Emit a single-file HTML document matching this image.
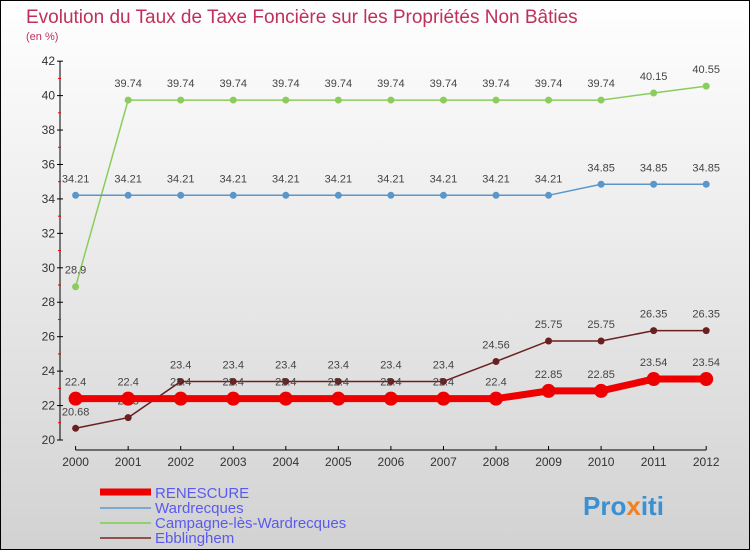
<!DOCTYPE html>
<html><head><meta charset="utf-8"><style>
body{margin:0}
#c{width:750px;height:550px;position:relative;overflow:hidden;font-family:"Liberation Sans",sans-serif}
</style></head><body>
<div id="c">
<svg id="s" width="750" height="550" xmlns="http://www.w3.org/2000/svg">
<defs><linearGradient id="bg" x1="0" y1="0" x2="0" y2="1"><stop offset="0" stop-color="#ffffff"/><stop offset="1" stop-color="#d2d2d2"/></linearGradient></defs>
<rect x="0.5" y="0.5" width="749" height="549" fill="url(#bg)" stroke="#000"/>
<text x="26" y="23" font-size="19" fill="#c0305a">Evolution du Taux de Taxe Foncière sur les Propriétés Non Bâties</text>
<text x="26" y="40" font-size="11" fill="#c0305a">(en %)</text>
<g id="axes"></g><g id="series"></g>
<g>
<line x1="100" y1="492" x2="151" y2="492" stroke="#e00" stroke-width="7"/>
<text x="155" y="498" font-size="15" fill="#5a5aee">RENESCURE</text>
<line x1="100" y1="508" x2="151" y2="508" stroke="#7aaad0" stroke-width="2"/>
<text x="155" y="513" font-size="15" fill="#5a5aee">Wardrecques</text>
<line x1="100" y1="523" x2="151" y2="523" stroke="#90d070" stroke-width="2"/>
<text x="155" y="528" font-size="15" fill="#5a5aee">Campagne-lès-Wardrecques</text>
<line x1="100" y1="538" x2="151" y2="538" stroke="#905050" stroke-width="2"/>
<text x="155" y="543" font-size="15" fill="#5a5aee">Ebblinghem</text>
</g>
<text x="583" y="515" font-size="26" font-weight="bold" fill="#3a90d0">Pro<tspan fill="#f08020">x</tspan>iti</text>
</svg>
</div>
<script>
const years=[2000,2001,2002,2003,2004,2005,2006,2007,2008,2009,2010,2011,2012];
const yTicks=[20,22,24,26,28,30,32,34,36,38,40,42];
const renescure=[22.4,22.4,22.4,22.4,22.4,22.4,22.4,22.4,22.4,22.85,22.85,23.54,23.54];
const wardrecques=[34.21,34.21,34.21,34.21,34.21,34.21,34.21,34.21,34.21,34.21,34.85,34.85,34.85];
const campagne=[28.9,39.74,39.74,39.74,39.74,39.74,39.74,39.74,39.74,39.74,39.74,40.15,40.55];
const ebblinghem=[20.68,21.3,23.4,23.4,23.4,23.4,23.4,23.4,24.56,25.75,25.75,26.35,26.35];
const NS='http://www.w3.org/2000/svg';
const X=i=>75.6+i*52.55;
const Y=v=>440-(v-20)*17.22;
function mk(t,a,p){const e=document.createElementNS(NS,t);for(const k in a)e.setAttribute(k,a[k]);p.appendChild(e);return e;}
const ax=document.getElementById('axes');
let e=mk('line',{x1:60,y1:Y(20),x2:60,y2:Y(42),stroke:'#000','stroke-width':1},ax);


e=mk('line',{x1:X(0),y1:450,x2:X(12),y2:450,stroke:'#000','stroke-width':1},ax);


yTicks.forEach(v=>{
 mk('line',{x1:57,y1:Y(v),x2:63,y2:Y(v),stroke:'#000'},ax);
 if(v<42)mk('line',{x1:58,y1:Y(v+1),x2:61,y2:Y(v+1),stroke:'#e00'},ax);
 const t=mk('text',{x:55,y:Y(v)+4,'font-size':12,fill:'#333','text-anchor':'end'},ax);t.textContent=v;
 
 
});
years.forEach((y,i)=>{
 mk('line',{x1:X(i),y1:446,x2:X(i),y2:450,stroke:'#000'},ax);
 const t=mk('text',{x:X(i),y:466,'font-size':12,fill:'#333','text-anchor':'middle'},ax);t.textContent=y;
 
 
});
const sg=document.getElementById('series');
function draw(vals,color,w,r,name){
 const g=mk('g',{},sg);
 
 
 const p=mk('polyline',{points:vals.map((v,i)=>X(i)+','+Y(v)).join(' '),fill:'none',stroke:color,'stroke-width':w},g);
 
 
 vals.forEach((v,i)=>{
  const c=mk('circle',{cx:X(i),cy:Y(v),r:r,fill:color},g);
  
  
  const t=mk('text',{x:X(i),y:Y(v)-13,'font-size':11,fill:'#444','text-anchor':'middle'},g);t.textContent=v;
  
  
 });
}
draw(campagne,'#8ccc5c',1.5,3.5,'campagne');
draw(wardrecques,'#5a96c8',1.5,3.5,'wardrecques');
draw(ebblinghem,'#6a2020',1.5,3.5,'ebblinghem');
draw(renescure,'#ee0000',7,7,'renescure');
</script>
</body></html>
